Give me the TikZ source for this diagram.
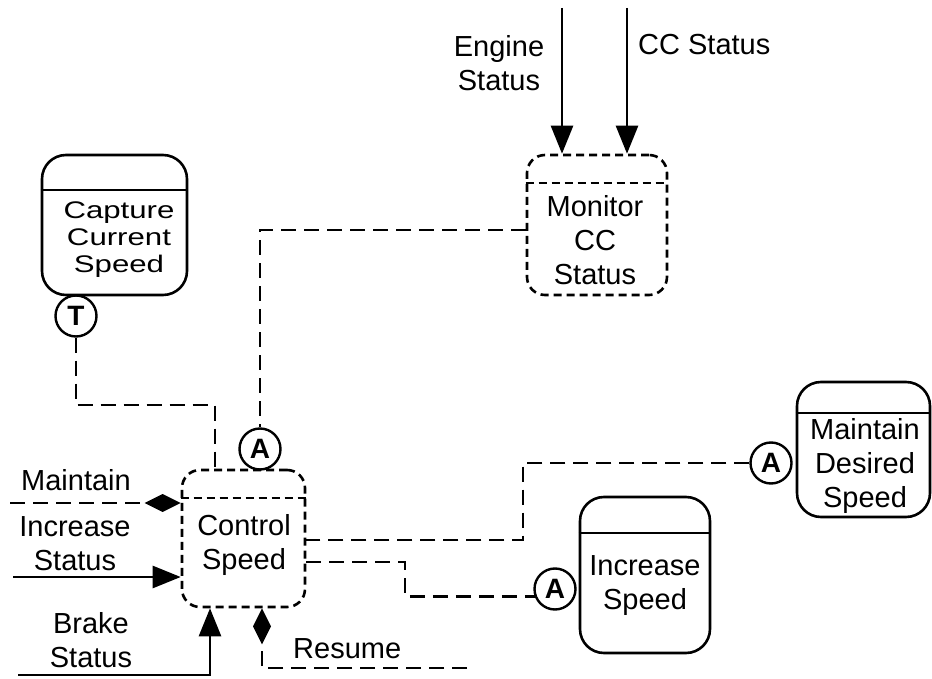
\documentclass[tikz,border=0pt]{standalone}
\usepackage{fontspec}
\setmainfont{Liberation Sans}
\newfontfamily\widefont[FakeStretch=1.3]{Liberation Sans}
\usetikzlibrary{arrows.meta}
\begin{document}
\begin{tikzpicture}[x=1pt,y=-1pt,
  lbl/.style={font=\fontsize{29}{34}\selectfont, align=center, inner sep=0pt},
  box/.style={draw, line width=2.6pt, rounded corners=24pt, inner sep=0pt},
  dbox/.style={box, dash pattern=on 8pt off 5pt, rounded corners=18pt},
  divider/.style={line width=2.6pt},
  ddivider/.style={line width=2.6pt, dash pattern=on 8pt off 5pt},
  conn/.style={line width=2.6pt, dash pattern=on 15pt off 8pt},
  flow/.style={line width=2.6pt, -{Triangle[length=28pt,width=22pt]}},
  dmd/.style={-{Diamond[length=36pt,width=18pt]}},
  circ/.style={draw, circle, line width=2.4pt, minimum size=41pt, inner sep=0pt,
    font=\fontsize{28}{28}\selectfont\bfseries}
]
\useasboundingbox (0,0) rectangle (932,679);

% boxes
\node[box, minimum width=145pt, minimum height=140pt] (cap) at (114.5,225) {};
\node[dbox, minimum width=140pt, minimum height=140pt] (mon) at (597,225) {};
\node[dbox, minimum width=123pt, minimum height=137pt] (cs) at (243.5,538.5) {};
\node[box, minimum width=133pt, minimum height=135pt] (mds) at (863.5,449.5) {};
\node[box, minimum width=130pt, minimum height=156pt] (is) at (645,575) {};

% dividers
\draw[divider] (cap.west |- 0,190) -- (cap.east |- 0,190);
\draw[ddivider] (mon.west |- 0,183) -- (mon.east |- 0,183);
\draw[ddivider] (cs.west |- 0,498) -- (cs.east |- 0,498);
\draw[divider] (mds.west |- 0,413) -- (mds.east |- 0,413);
\draw[divider] (is.west |- 0,533) -- (is.east |- 0,533);

% box texts
\node[lbl, font=\widefont\fontsize{24}{27}\selectfont] (capt) at (119,240) {Capture\\Current\\Speed};
\node[lbl] (mont) at (595,240) {Monitor\\CC\\Status};
\node[lbl] (cst) at (244,545) {Control\\Speed};
\node[lbl] (mdst) at (865,466) {Maintain\\Desired\\Speed};
\node[lbl] (ist) at (645,586) {Increase\\Speed};

% circles
\node[circ] (T) at (76,316) {T};
\node[circ] (Acs) at (260,449) {A};
\node[circ] (Amd) at (771,463) {A};
\node[circ] (Ais) at (555,589) {A};

% outside labels
\node[lbl] (eng) at (499,63) {Engine\\Status};
\node[lbl, anchor=base west] (ccs) at (638,55) {CC Status};
\node[lbl, anchor=base] (mnt) at (76,490) {Maintain};
\node[lbl] (incs) at (75,544) {Increase\\Status};
\node[lbl] (brk) at (91,640) {Brake\\Status};
\node[lbl, anchor=base west] (res) at (293,658) {Resume};

% free ends
\coordinate (engtop) at (562,8);
\coordinate (cctop) at (627,8);
\coordinate (mntleft) at (10,503);
\coordinate (incleft) at (13,577);
\coordinate (brkleft) at (18,675);
\coordinate (resright) at (467,668);

% solid flows
\draw[flow] (engtop) -- (mon.north -| engtop);
\draw[flow] (cctop) -- (mon.north -| cctop);
\draw[flow] (incleft) -- (cs.west |- incleft);
\draw[flow] (brkleft) -| (cs.south -| 210,0);

% dashed flows with diamonds
\draw[conn, dmd] (mntleft) -- (cs.west |- mntleft);
\draw[conn, dmd] (resright) -| (cs.south -| 262,0);

% dashed connectors
\draw[conn] (T.south) |- (215,405) -- (cs.north -| 215,0);
\draw[conn] (mon.west |- 0,230) -| (Acs.north);
\draw[conn] (Amd.west) -| (523,540) -- (cs.east |- 0,540);
\draw[conn] (cs.east |- 0,562) -- (405,562) |- (Ais.200);
\end{tikzpicture}
\end{document}
